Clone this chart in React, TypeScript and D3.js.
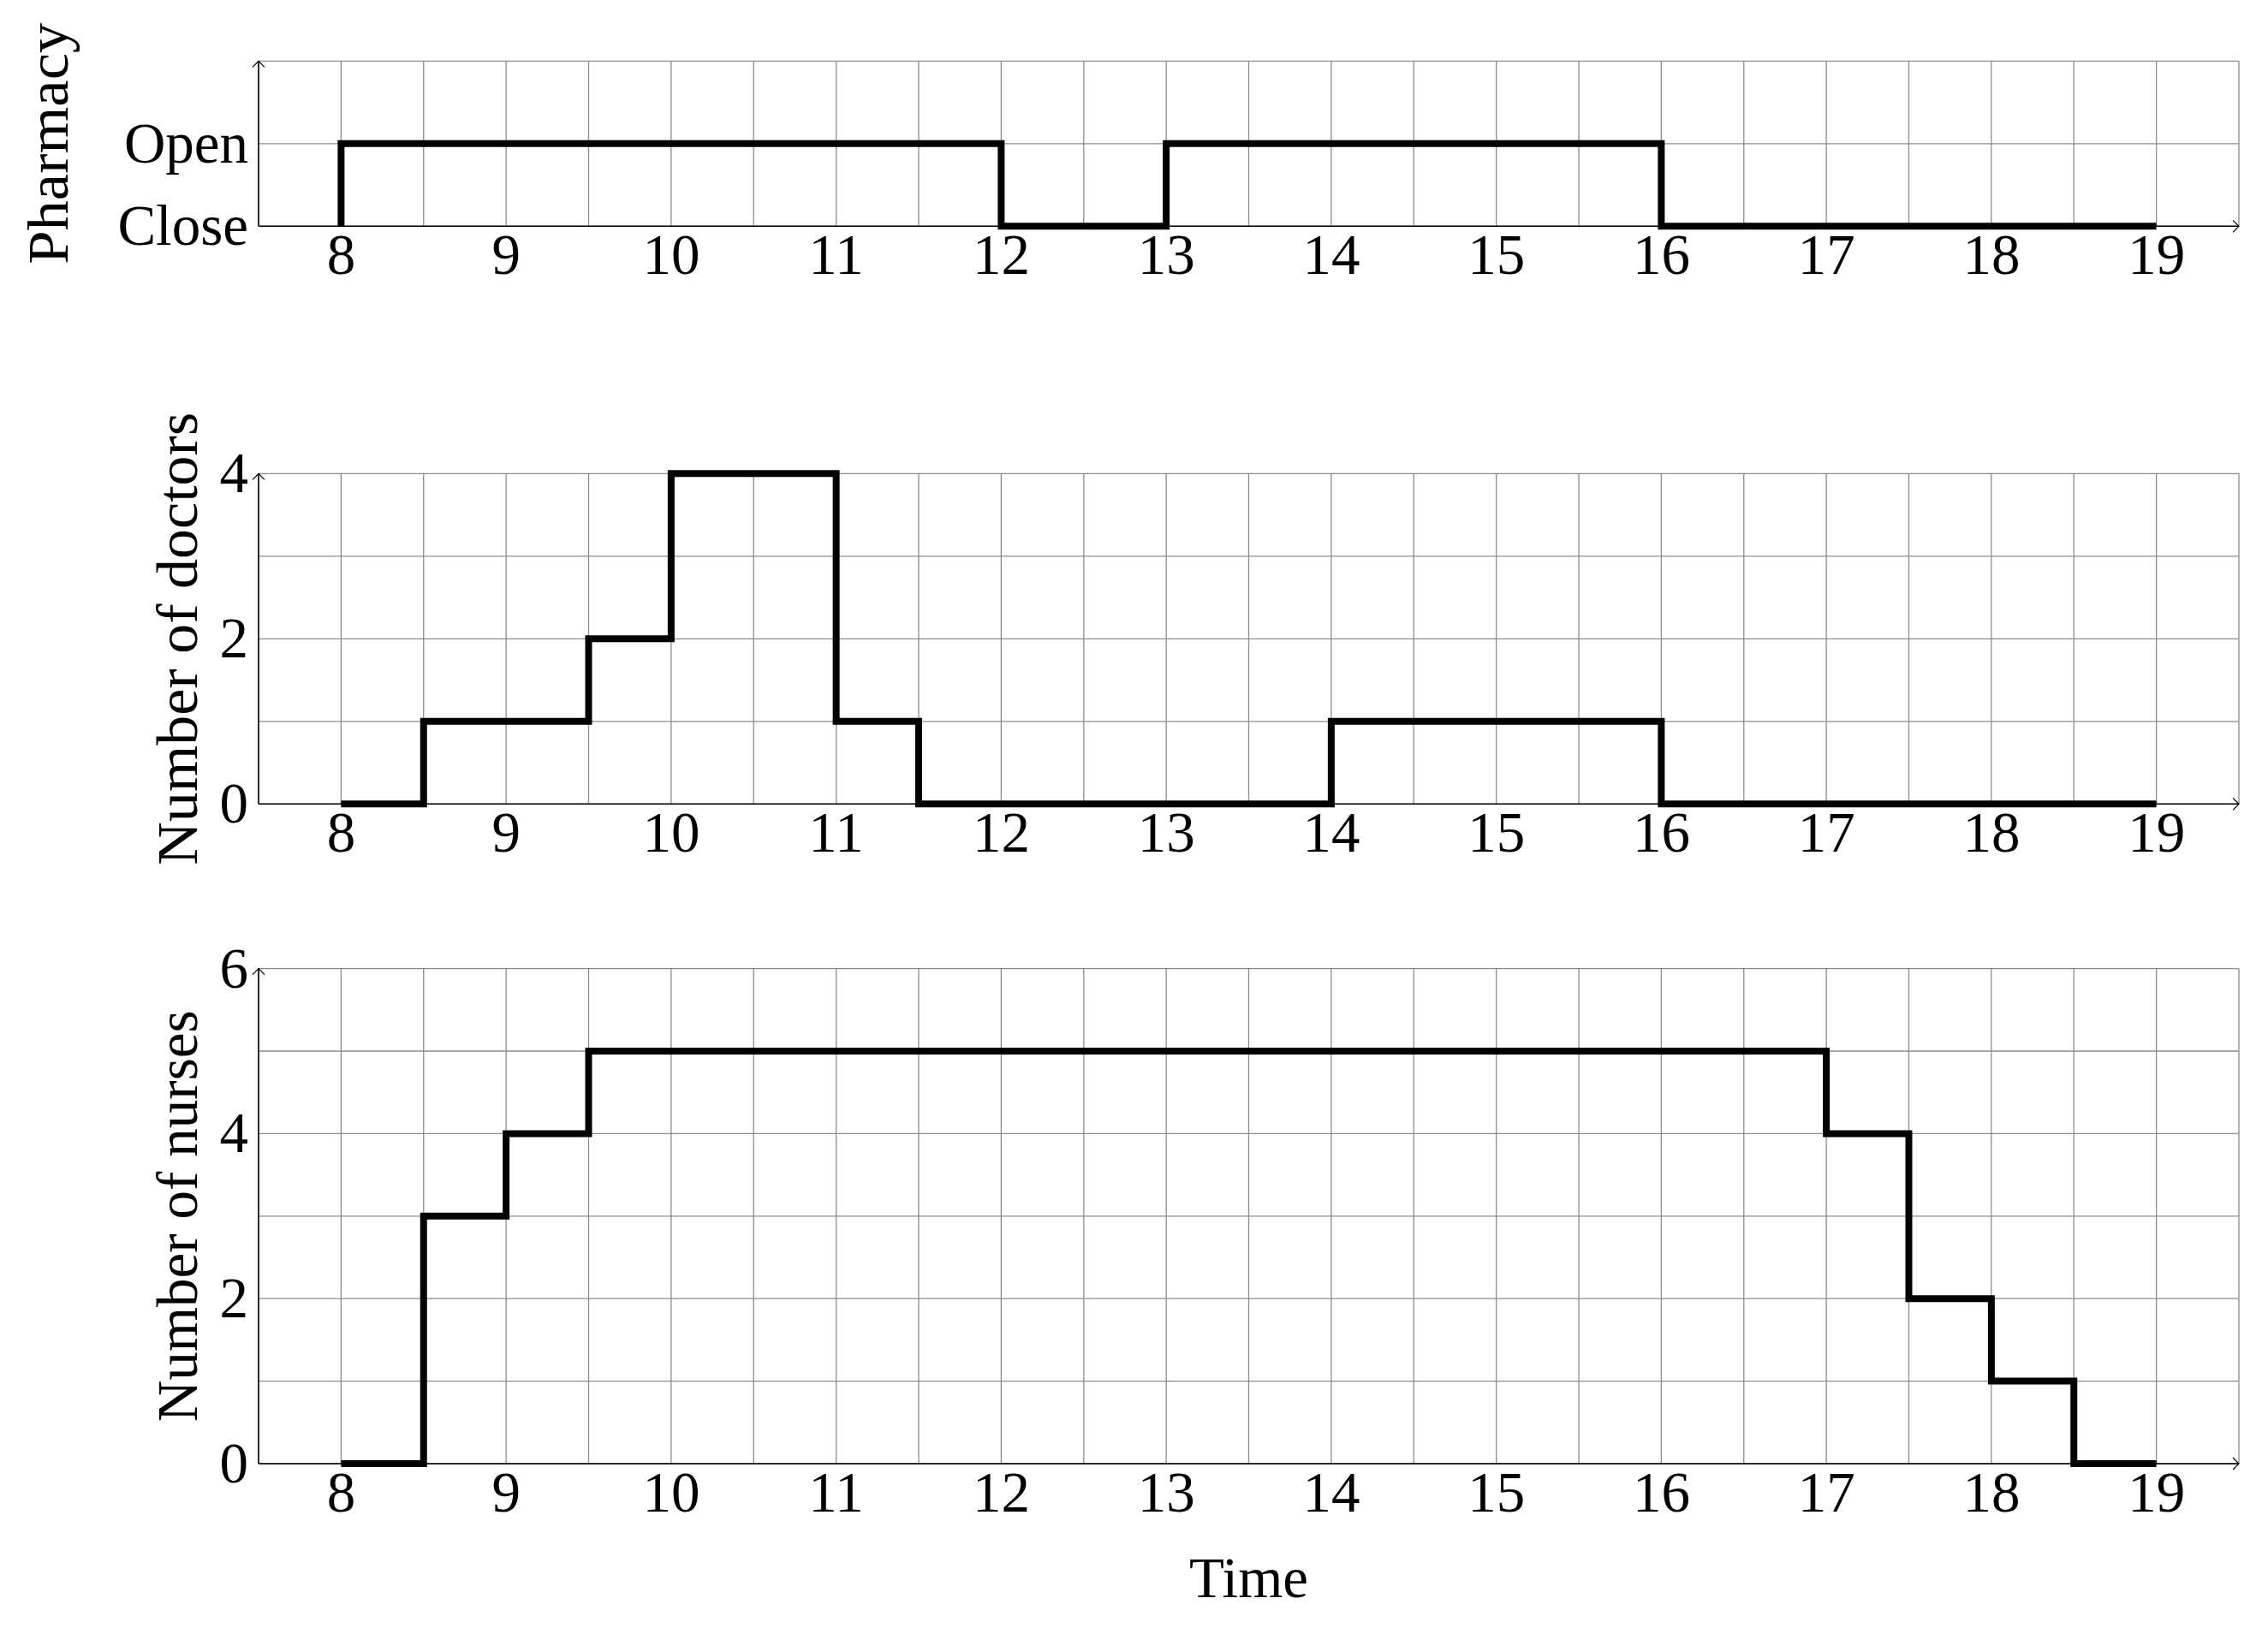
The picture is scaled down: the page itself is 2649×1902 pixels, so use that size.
import * as d3 from 'd3';
import React from 'react';

// hours shown on every x axis
const hours = [8, 9, 10, 11, 12, 13, 14, 15, 16, 17, 18, 19];

// pharmacy: 0 = Close, 1 = Open (value holds until the next time)
const pharmacyTimes = [8, 8, 12, 13, 16, 19];
const pharmacyValues = [0, 1, 0, 1, 0, 0];
const pharmacyTicks = [0, 1];
const pharmacyTickLabels = ['Close', 'Open'];

const doctorTimes = [8, 8.5, 9.5, 10, 11, 11.5, 14, 16, 19];
const doctorValues = [0, 1, 2, 4, 1, 0, 1, 0, 0];
const doctorTicks = [0, 2, 4];

const nurseTimes = [8, 8.5, 9, 9.5, 17, 17.5, 18, 18.5, 19];
const nurseValues = [0, 3, 4, 5, 4, 2, 1, 0, 0];
const nurseTicks = [0, 2, 4, 6];

const W = 2649;
const H = 1902;
const FONT = '"Liberation Serif", "Times New Roman", serif';
const FS = 67;

const x = d3.scaleLinear().domain([7.5, 19.5]).range([302, 2615]);
const xGrid = d3.range(7.5, 19.51, 0.5);

type PanelProps = {
  times: number[];
  values: number[];
  yMax: number;
  top: number;
  bottom: number;
  ticks: number[];
  tickLabels?: string[];
  label: string;
  labelX: number;
  labelLen: number;
};

const Panel = ({ times, values, yMax, top, bottom, ticks, tickLabels, label, labelX, labelLen }: PanelProps) => {
  const y = d3.scaleLinear().domain([0, yMax]).range([bottom, top]);
  const yGrid = d3.range(0, yMax + 0.01, 1);
  const pts = times.map((t, i) => [t, values[i]] as [number, number]);
  const line = d3
    .line<[number, number]>()
    .x((d) => x(d[0]))
    .y((d) => y(d[1]))
    .curve(d3.curveStepAfter);
  const x0 = x.range()[0];
  const x1 = x.range()[1];
  const a = 7;
  return (
    <g>
      {xGrid.map((g) => (
        <line key={'gx' + g} x1={x(g)} x2={x(g)} y1={top} y2={bottom} stroke="#8c8c8c" strokeWidth={1.3} />
      ))}
      {yGrid.map((g) => (
        <line key={'gy' + g} x1={x0} x2={x1} y1={y(g)} y2={y(g)} stroke="#8c8c8c" strokeWidth={1.3} />
      ))}
      {/* axis lines with open arrow heads */}
      <line x1={x0} x2={x0} y1={bottom} y2={top} stroke="#000" strokeWidth={1.5} />
      <line x1={x0} x2={x1} y1={bottom} y2={bottom} stroke="#000" strokeWidth={1.5} />
      <path d={`M${x0 - a},${top + a} L${x0},${top} L${x0 + a},${top + a}`} fill="none" stroke="#000" strokeWidth={1.2} />
      <path d={`M${x1 - a},${bottom - a} L${x1},${bottom} L${x1 - a},${bottom + a}`} fill="none" stroke="#000" strokeWidth={1.2} />
      <path d={line(pts) || ''} fill="none" stroke="#000" strokeWidth={8} strokeLinejoin="miter" strokeLinecap="butt" />
      {hours.map((h) => (
        <text key={'xt' + h} x={x(h)} y={bottom + 56} textAnchor="middle" fontFamily={FONT} fontSize={FS}>
          {h}
        </text>
      ))}
      {ticks.map((t, i) => (
        <text key={'yt' + t} x={290} y={y(t) + 22} textAnchor="end" fontFamily={FONT} fontSize={FS}>
          {tickLabels ? tickLabels[i] : t}
        </text>
      ))}
      <text
        transform={`translate(${labelX},${(top + bottom) / 2}) rotate(-90)`}
        textAnchor="middle"
        fontFamily={FONT}
        fontSize={FS}
        textLength={labelLen}
        lengthAdjust="spacingAndGlyphs"
      >
        {label}
      </text>
    </g>
  );
};

export default function App() {
  return (
    <svg width={W} height={H} style={{ position: 'absolute', left: 0, top: 0, background: '#fff' }}>
      <rect width={W} height={H} fill="#fff" />
      <Panel
        times={pharmacyTimes}
        values={pharmacyValues}
        yMax={2}
        top={71.3}
        bottom={264.3}
        ticks={pharmacyTicks}
        tickLabels={pharmacyTickLabels}
        label="Pharmacy"
        labelX={79}
        labelLen={282}
      />
      <Panel
        times={doctorTimes}
        values={doctorValues}
        yMax={4}
        top={553.3}
        bottom={939.3}
        ticks={doctorTicks}
        label="Number of doctors"
        labelX={230}
        labelLen={529}
      />
      <Panel
        times={nurseTimes}
        values={nurseValues}
        yMax={6}
        top={1131.6}
        bottom={1710}
        ticks={nurseTicks}
        label="Number of nurses"
        labelX={230}
        labelLen={481}
      />
      <text x={(x.range()[0] + x.range()[1]) / 2} y={1866} textAnchor="middle" fontFamily={FONT} fontSize={FS}>
        Time
      </text>
    </svg>
  );
}
